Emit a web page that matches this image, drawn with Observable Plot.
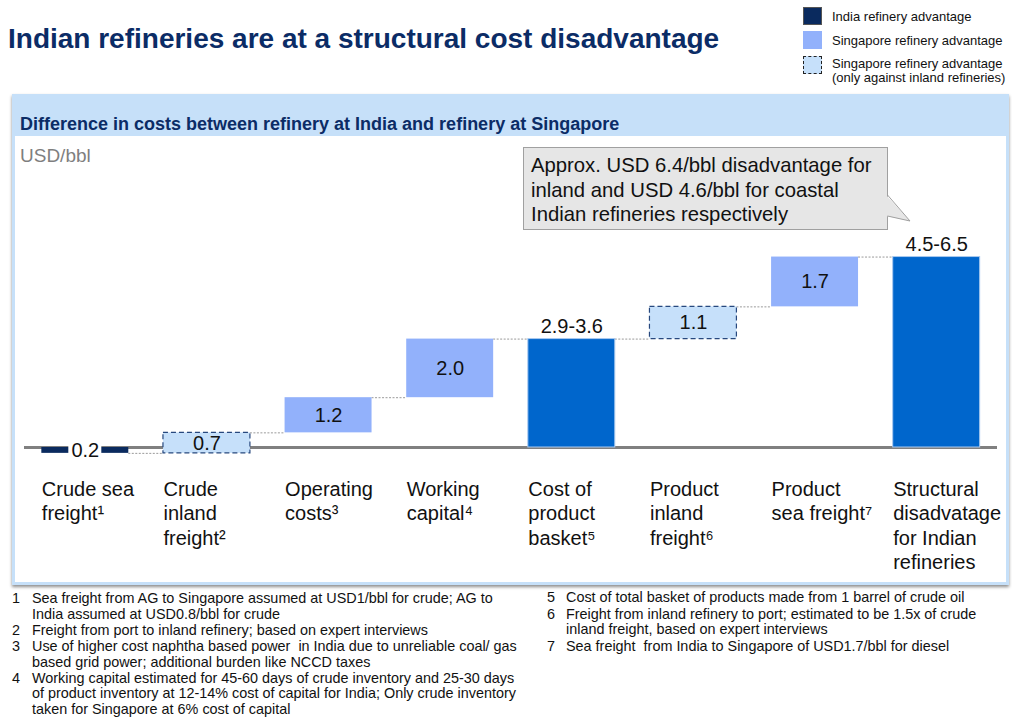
<!DOCTYPE html>
<html><head><meta charset="utf-8">
<script src="https://cdn.jsdelivr.net/npm/d3@7"></script>
<script src="https://cdn.jsdelivr.net/npm/@observablehq/plot@0.6"></script>
<style>
body{margin:0;background:#fff;font-family:"Liberation Sans",Arial,sans-serif;}
#page{position:relative;width:1012px;height:722px;overflow:hidden;background:#fff;}
.abs{position:absolute;white-space:nowrap;line-height:1;}
.sw{position:absolute;left:803px;width:19px;height:18px;box-sizing:border-box;}
.lg{position:absolute;left:832px;font-size:13px;line-height:1;white-space:nowrap;color:#111;}
.fn{position:absolute;font-size:14.4px;line-height:15.9px;color:#111;white-space:nowrap;}
.fn .n{position:absolute;left:0;}
.fn .t{position:absolute;}
</style></head><body><div id="page">

<div class="abs" style="left:8px;top:25.3px;font-size:28px;font-weight:bold;color:#0b2c66">Indian refineries are at a structural cost disadvantage</div>

<div class="sw" style="top:7px;background:#0a2a5e;border:1px solid #555"></div>
<div class="lg" style="top:10px">India refinery advantage</div>
<div class="sw" style="top:31px;background:#92b1fb"></div>
<div class="lg" style="top:34px">Singapore refinery advantage</div>
<div class="sw" style="top:56px;background:#c6e0fa;border:1.5px dashed #222"></div>
<div class="lg" style="top:57px;line-height:14px">Singapore refinery advantage<br>(only against inland refineries)</div>

<div style="position:absolute;left:12px;top:94px;width:997px;height:491px;box-sizing:border-box;border:3px solid #c6e0f9;box-shadow:0 2px 3px rgba(0,0,0,0.45)"></div>
<div style="position:absolute;left:12px;top:94px;width:997px;height:42px;background:#c6e0f9"></div>
<div class="abs" style="left:20px;top:114.8px;font-size:18px;font-weight:bold;color:#0b2c66">Difference in costs between refinery at India and refinery at Singapore</div>
<div class="abs" style="left:20px;top:146px;font-size:19px;color:#7f7f7f">USD/bbl</div>

<div id="chart" style="position:absolute;left:0;top:136px"></div>

<div style="position:absolute;left:523px;top:147px;width:365px;height:83px;box-sizing:border-box;background:#e6e6e6;border:1px solid #a0a0a0"></div>
<svg style="position:absolute;left:0;top:0" width="1012" height="722">
  <polygon points="886,195 910,221 886,216" fill="#e6e6e6"/>
  <polyline points="887.5,195 910,221 887.5,216" fill="none" stroke="#a0a0a0" stroke-width="1"/>
</svg>
<div class="abs" style="left:531px;top:153px;font-size:20.3px;line-height:24.5px;color:#111">Approx. USD 6.4/bbl disadvantage for<br>inland and USD 4.6/bbl for coastal<br>Indian refineries respectively</div>

<div class="fn" style="left:12px;top:591px;width:520px">
 <div class="n" style="top:0">1</div><div class="t" style="left:20px;top:0">Sea freight from AG to Singapore assumed at USD1/bbl for crude; AG to<br>India assumed at USD0.8/bbl for crude</div>
 <div class="n" style="top:31.8px">2</div><div class="t" style="left:20px;top:31.8px">Freight from port to inland refinery; based on expert interviews</div>
 <div class="n" style="top:47.7px">3</div><div class="t" style="left:20px;top:47.7px">Use of higher cost naphtha based power&nbsp; in India due to unreliable coal/ gas<br>based grid power; additional burden like NCCD taxes</div>
 <div class="n" style="top:79.5px">4</div><div class="t" style="left:20px;top:79.5px">Working capital estimated for 45-60 days of crude inventory and 25-30 days<br>of product inventory at 12-14% cost of capital for India; Only crude inventory<br>taken for Singapore at 6% cost of capital</div>
</div>
<div class="fn" style="left:547px;top:590px;width:460px">
 <div class="n" style="top:0">5</div><div class="t" style="left:19px;top:0">Cost of total basket of products made from 1 barrel of crude oil</div>
 <div class="n" style="top:16.5px">6</div><div class="t" style="left:19px;top:16.5px">Freight from inland refinery to port; estimated to be 1.5x of crude<br>inland freight, based on expert interviews</div>
 <div class="n" style="top:49px">7</div><div class="t" style="left:19px;top:49px">Sea freight&nbsp; from India to Singapore of USD1.7/bbl for diesel</div>
</div>

</div>
<script>
// ---- data ----
const categories = ["Crude sea freight","Crude inland freight","Operating costs","Working capital","Cost of product basket","Product inland freight","Product sea freight","Structural disadvatage for Indian refineries"];
const tickLabels = ["Crude sea\nfreight\u00b9","Crude\ninland\nfreight\u00b2","Operating\ncosts\u00b3","Working\ncapital\u2074","Cost of\nproduct\nbasket\u2075","Product\ninland\nfreight\u2076","Product\nsea freight\u2077","Structural\ndisadvatage\nfor Indian\nrefineries"];
const deltas = [-0.2, 0.7, 1.2, 2.0, null, 1.1, 1.7, null];
const kinds = ["india","inland","singapore","singapore","total","inland","singapore","total"];
const valueLabels = ["0.2","0.7","1.2","2.0","2.9-3.6","1.1","1.7","4.5-6.5"];
const kindDomain = ["india","singapore","inland","total"];
const kindColors = ["#0a2a5e","#92b1fb","#c6e0fa","#0066cc"];

// ---- build waterfall rows ----
let cum = 0;
const rows = categories.map((cat, i) => {
  let y1, y2;
  if (kinds[i] === "total") { y1 = 0; y2 = cum; }
  else { y1 = cum; y2 = cum + deltas[i]; cum = y2; }
  return {cat, kind: kinds[i], y1, y2, mid: (y1 + y2) / 2, top: Math.max(y1, y2), end: cum, label: valueLabels[i]};
});
const connectors = rows.slice(1).map((r, i) => ({cat: r.cat, y: rows[i].end}));

// ---- layout ----
const W = 1012, H = 449, ML = 24, MR = 15, PI = 0.285, PO = 0.1425;
const step = (W - ML - MR) / (categories.length - PI + 2 * PO);
const bw = step * (1 - PI), gap = step * PI;
const labelGap = 33; // white gap behind the negative-bar label
const india = rows.filter(d => d.kind === "india");

const chart = Plot.plot({
  width: W, height: H,
  marginLeft: ML, marginRight: MR, marginTop: 18, marginBottom: 108.7,
  x: {domain: categories, paddingInner: PI, paddingOuter: PO, align: 0.5, round: false},
  y: {domain: [-1, 10], axis: null},
  color: {domain: kindDomain, range: kindColors},
  style: {fontFamily: "'Liberation Sans', Arial, sans-serif", fontSize: "20px", color: "#111", background: "transparent", overflow: "visible"},
  marks: [
    Plot.ruleY([0], {stroke: "#808080", strokeWidth: 3}),
    Plot.tickY(connectors, {x: "cat", y: "y", insetLeft: -gap, insetRight: bw, stroke: "#9a9a9a", strokeWidth: 1, strokeDasharray: "2,1.5"}),
    Plot.barY(rows.filter(d => d.kind === "india" || d.kind === "singapore"), {x: "cat", y1: "y1", y2: "y2", fill: "kind"}),
    Plot.barY(india, {x: "cat", y1: "y1", y2: "y2", fill: "white", insetLeft: (bw - labelGap) / 2, insetRight: (bw - labelGap) / 2, insetTop: -4, insetBottom: -4}),
    Plot.barY(rows.filter(d => d.kind === "total"), {x: "cat", y1: "y1", y2: "y2", fill: "kind", stroke: "#a9c9ef", strokeWidth: 1}),
    Plot.barY(rows.filter(d => d.kind === "inland"), {x: "cat", y1: "y1", y2: "y2", fill: "kind", stroke: "#27487e", strokeWidth: 1.2, strokeDasharray: "5,3"}),
    Plot.text(rows.filter(d => d.kind === "singapore" || d.kind === "inland"), {x: "cat", y: "mid", text: "label", fontSize: 20, fill: "#111"}),
    Plot.text(india, {x: "cat", y: "mid", text: "label", fontSize: 20, fill: "#111"}),
    Plot.text(rows.filter(d => d.kind === "total"), {x: "cat", y: "top", text: "label", fontSize: 20, fill: "#111", lineAnchor: "bottom", dy: -6}),
    Plot.axisX({tickSize: 0, tickPadding: 1.5, textAnchor: "start", dx: -bw / 2, fontSize: 20, lineHeight: 1.225, fill: "#111", label: null, tickFormat: d => tickLabels[categories.indexOf(d)]})
  ]
});
document.getElementById("chart").appendChild(chart);
</script>
</body></html>
